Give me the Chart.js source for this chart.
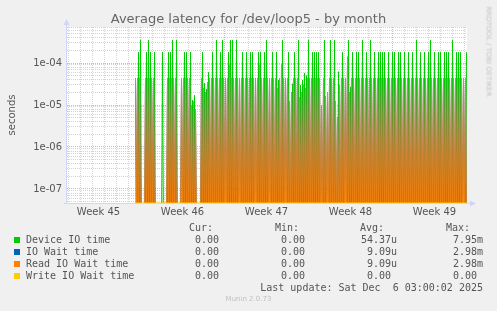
<!DOCTYPE html>
<html>
<head>
<meta charset="utf-8">
<script src="https://cdn.jsdelivr.net/npm/chart.js@4.4.1/dist/chart.umd.min.js"></script>
<style>
  body { margin: 0; background: #f0f0f0; }
  #wrap { position: relative; width: 497px; height: 311px; overflow: hidden; background: #f0f0f0; }
  #chart { position: absolute; left: 0; top: 0; }
  .txt { position: absolute; white-space: pre; color: #555; font-family: "DejaVu Sans", sans-serif; }
  .mono { font-family: "DejaVu Sans Mono", monospace; font-size: 10px; line-height: 12px; }
  .sq { position: absolute; width: 6px; height: 6px; }
</style>
</head>
<body>
<div id="wrap">
  <canvas id="chart" width="497" height="311"></canvas>
  <div class="txt" id="title" style="left:0;width:497px;text-align:center;top:11px;font-size:13px;line-height:15px;color:#666;">Average latency for /dev/loop5 - by month</div>
  <div class="txt" style="left:-18px;top:109px;width:60px;text-align:center;font-size:10px;line-height:12px;transform:rotate(-90deg);">seconds</div>
  <div class="txt" style="left:438px;top:47px;width:100px;text-align:center;font-size:7px;line-height:9px;color:#c4c4c4;transform:rotate(90deg);">RRDTOOL / TOBI OETIKER</div>
  <div id="legend"></div>
  <div class="txt" style="left:0;width:497px;text-align:center;top:295px;font-size:7px;line-height:9px;color:#c0c0c0;">Munin 2.0.73</div>
</div>
<script>
// samples are 2-hourly averages, hours counted from Mon 10 Nov 00:00 (start of week 46)
const sampleStartHour = -10;
const sampleStepHours = 2;

// values in microseconds (0 = line drops below the axis)
const deviceTime = [
  0, 0, 0, 180, 0, 350, 0, 0, 0, 0, 0, 180, 0, 350, 0, 180, 0, 0, 0, 180,
  0, 0, 0, 0, 0, 0, 0, 180, 0, 0, 0, 0, 0, 180, 0, 180, 0, 350, 0, 0,
  0, 350, 0, 0, 0, 0, 0, 0, 0, 180, 0, 180, 0, 0, 0, 180, 0, 13, 0, 17,
  0, 0, 0, 0, 0, 0, 0, 180, 0, 33, 0, 24, 0, 60, 0, 0, 0, 180, 0, 0,
  0, 350, 0, 0, 0, 180, 0, 350, 0, 0, 0, 0, 0, 180, 0, 350, 0, 350, 0, 0,
  0, 350, 0, 0, 0, 0, 0, 180, 0, 0, 0, 180, 0, 0, 0, 180, 0, 180, 0, 0,
  0, 0, 0, 180, 0, 180, 0, 0, 0, 180, 0, 350, 0, 0, 0, 0, 0, 180, 0, 0,
  0, 180, 0, 39, 0, 0, 0, 350, 0, 0, 0, 0, 0, 180, 0, 0, 0, 32, 0, 180,
  0, 0, 0, 350, 0, 30, 0, 39, 0, 58, 0, 50, 0, 350, 0, 0, 0, 180, 0, 180,
  0, 180, 0, 180, 0, 0, 0, 0, 0, 350, 0, 0, 0, 0, 0, 350, 0, 0, 0, 350,
  0, 0, 0, 62, 0, 0, 0, 180, 0, 0, 0, 0, 0, 350, 0, 27, 0, 180, 0, 0,
  0, 180, 0, 180, 0, 0, 0, 350, 0, 0, 0, 180, 0, 0, 0, 350, 0, 0, 0, 180,
  0, 0, 0, 180, 0, 180, 0, 180, 0, 180, 0, 0, 0, 180, 0, 0, 0, 180, 0, 180,
  0, 0, 0, 180, 0, 180, 0, 0, 0, 180, 0, 0, 0, 180, 0, 0, 0, 180, 0, 0,
  0, 350, 0, 0, 0, 180, 0, 0, 0, 180, 0, 0, 0, 180, 0, 350, 0, 0, 0, 180,
  0, 0, 0, 180, 0, 180, 0, 0, 0, 180, 0, 180, 0, 180, 0, 0, 0, 350, 0, 0,
  0, 180, 0, 180, 0, 180, 0, 0, 0, 0, 0, 180
];

const readWait = [
  44, 0, 44, 0, 44, 0, 0, 0, 0, 0, 44, 0, 44, 0, 44, 0, 44, 0, 44, 0,
  0, 0, 0, 0, 0, 0, 0, 0, 0, 0, 0, 0, 44, 0, 44, 0, 44, 0, 44, 0,
  44, 0, 0, 0, 0, 0, 44, 0, 44, 0, 44, 0, 44, 0, 44, 0, 10, 0, 12, 0,
  8, 0, 0, 0, 0, 0, 44, 0, 25, 0, 20, 0, 35, 0, 44, 0, 44, 0, 44, 0,
  44, 0, 44, 0, 44, 0, 44, 0, 44, 0, 44, 0, 44, 0, 90, 0, 44, 0, 44, 0,
  44, 0, 44, 0, 44, 0, 44, 0, 44, 0, 44, 0, 44, 0, 44, 0, 44, 0, 44, 0,
  44, 0, 44, 0, 90, 0, 44, 0, 44, 0, 44, 0, 44, 0, 44, 0, 44, 0, 44, 0,
  44, 0, 25, 0, 44, 0, 90, 0, 44, 0, 44, 0, 44, 0, 12, 0, 20, 0, 44, 0,
  44, 0, 44, 0, 15, 0, 20, 0, 30, 0, 25, 0, 44, 0, 44, 0, 44, 0, 44, 0,
  44, 0, 44, 0, 44, 0, 10, 0, 44, 0, 16, 0, 20, 0, 44, 0, 44, 0, 44, 0,
  12, 0, 5, 0, 30, 0, 44, 0, 44, 0, 44, 0, 140, 0, 20, 0, 44, 0, 44, 0,
  44, 0, 44, 0, 44, 0, 44, 0, 44, 0, 44, 0, 44, 0, 44, 0, 44, 0, 44, 0,
  44, 0, 44, 0, 44, 0, 44, 0, 44, 0, 44, 0, 44, 0, 44, 0, 44, 0, 44, 0,
  44, 0, 44, 0, 44, 0, 44, 0, 44, 0, 44, 0, 44, 0, 44, 0, 44, 0, 44, 0,
  44, 0, 44, 0, 44, 0, 44, 0, 44, 0, 44, 0, 44, 0, 44, 0, 44, 0, 44, 0,
  44, 0, 44, 0, 44, 0, 44, 0, 44, 0, 44, 0, 44, 0, 44, 0, 44, 0, 44, 0,
  44, 0, 44, 0, 44, 0, 44, 0, 44, 0, 44, 0
];

// IO wait is the same as read wait here (same avg and max in the legend)
const ioWait = readWait;

// write wait stays at 0 over the whole data range
const writeWaitHours = [-10, 652];
const writeWait = [0, 0];

// x axis
const weekLabelHours = [-84, 84, 252, 420, 588];
const weekLabels = ["Week 45", "Week 46", "Week 47", "Week 48", "Week 49"];

// y axis
const yMin = 4.64e-8;
const yMax = 7.2e-4;
const yDecades = [1e-8, 1e-7, 1e-6, 1e-5, 1e-4];
const yDecadeLabels = ["1e-08", "1e-07", "1e-06", "1e-05", "1e-04"];

// legend
const seriesNames = ["Device IO time", "IO Wait time", "Read IO Wait time", "Write IO Wait time"];
const seriesColors = ["#00cc00", "#0066b3", "#ff8000", "#ffcc00"];
const curValues = ["0.00 ", "0.00 ", "0.00 ", "0.00 "];
const minValues = ["0.00 ", "0.00 ", "0.00 ", "0.00 "];
const avgValues = ["54.37u", "9.09u", "9.09u", "0.00 "];
const maxValues = ["7.95m", "2.98m", "2.98m", "0.00 "];
const lastUpdate = "Last update: Sat Dec  6 03:00:02 2025";

// a log axis has no 0, so zero readings go just below the axis and get clipped there
const zeroFloor = 5e-9;
const toSeconds = (us) => (us === 0 ? zeroFloor : us / 1e6);

const toPoints = (values) =>
  values.map((v, i) => ({ x: sampleStartHour + i * sampleStepHours, y: toSeconds(v) }));

const yTicks = [];
yDecades.forEach((d) => {
  for (let m = 1; m <= 9; m++) {
    const v = m * d;
    if (v >= yMin && v <= yMax) yTicks.push(v);
  }
});

const xTicks = [];
for (let h = -144; h <= 648; h += 12) xTicks.push(h);

const axisColor = "#cfd6f8";
const majorGrid = "rgba(235,140,140,0.7)";
const minorGrid = "rgba(175,175,175,0.55)";

const plotDecor = {
  id: "plotDecor",
  beforeDraw(chart) {
    const { ctx, chartArea: a } = chart;
    ctx.save();
    ctx.fillStyle = "#ffffff";
    ctx.fillRect(a.left, a.top, a.right - a.left, a.bottom - a.top);
    ctx.restore();
  },
  beforeDatasetsDraw(chart) {
    const { ctx, chartArea: a } = chart;
    ctx.save();
    ctx.strokeStyle = axisColor;
    ctx.fillStyle = axisColor;
    ctx.lineWidth = 1;
    ctx.beginPath();
    ctx.moveTo(a.left - 0.5, a.bottom + 1);
    ctx.lineTo(a.left - 0.5, a.top - 4);
    ctx.moveTo(a.left - 3, a.bottom + 0.5);
    ctx.lineTo(a.right + 4, a.bottom + 0.5);
    ctx.stroke();
    ctx.beginPath();
    ctx.moveTo(a.left - 0.5, a.top - 8);
    ctx.lineTo(a.left - 3.5, a.top - 2);
    ctx.lineTo(a.left + 2.5, a.top - 2);
    ctx.closePath();
    ctx.fill();
    ctx.beginPath();
    ctx.moveTo(a.right + 9, a.bottom + 0.5);
    ctx.lineTo(a.right + 3, a.bottom - 2.5);
    ctx.lineTo(a.right + 3, a.bottom + 3.5);
    ctx.closePath();
    ctx.fill();
    ctx.restore();
  },
};

const mkSet = (label, data, color, order) => ({
  label,
  data,
  borderColor: color,
  backgroundColor: color,
  borderWidth: 1,
  pointRadius: 0,
  tension: 0,
  fill: false,
  order,
});

new Chart(document.getElementById("chart"), {
  type: "line",
  data: {
    datasets: [
      mkSet(seriesNames[0], toPoints(deviceTime), seriesColors[0], 4),
      mkSet(seriesNames[1], toPoints(ioWait), seriesColors[1], 3),
      mkSet(seriesNames[2], toPoints(readWait), seriesColors[2], 2),
      mkSet(seriesNames[3], writeWaitHours.map((h, i) => ({ x: h, y: yMin })), seriesColors[3], 1),
    ],
  },
  options: {
    responsive: false,
    animation: false,
    layout: { padding: { left: 0, top: 27, right: 30, bottom: 0 } },
    plugins: { legend: { display: false }, title: { display: false }, tooltip: { enabled: false } },
    scales: {
      x: {
        type: "linear",
        min: -147,
        max: 653,
        afterBuildTicks: (scale) => {
          scale.ticks = xTicks.map((v) => ({ value: v }));
        },
        afterFit: (scale) => {
          scale.height = 108;
        },
        ticks: {
          autoSkip: false,
          maxRotation: 0,
          padding: 3,
          color: "#555",
          font: { family: "DejaVu Sans", size: 10 },
          callback: (value) => {
            const k = weekLabelHours.indexOf(value);
            return k >= 0 ? weekLabels[k] : "";
          },
        },
        grid: {
          drawTicks: false,
          lineWidth: 1,
          color: (ctx) => {
            const v = ctx.tick ? ctx.tick.value : 1;
            if (v % 168 === 0) return majorGrid;
            if (v % 24 === 0) return minorGrid;
            return "rgba(0,0,0,0)";
          },
        },
        border: { display: false, dash: [1, 1] },
      },
      y: {
        type: "logarithmic",
        min: yMin,
        max: yMax,
        afterBuildTicks: (scale) => {
          scale.ticks = yTicks.map((v) => ({ value: v }));
        },
        afterFit: (scale) => {
          scale.width = 67;
        },
        ticks: {
          autoSkip: false,
          padding: 5,
          color: "#555",
          font: { family: "DejaVu Sans", size: 10 },
          callback: (value) => {
            const k = yDecades.indexOf(value);
            return k >= 0 ? yDecadeLabels[k] : "";
          },
        },
        grid: {
          drawTicks: false,
          lineWidth: 1,
          color: (ctx) => {
            const v = ctx.tick ? ctx.tick.value : 0;
            return yDecades.indexOf(v) >= 0 ? majorGrid : minorGrid;
          },
        },
        border: { display: false, dash: [1, 1] },
      },
    },
  },
  plugins: [plotDecor],
});

// legend block under the chart
const legend = document.getElementById("legend");
const addText = (text, rightEdge, centerY, extra) => {
  const el = document.createElement("div");
  el.className = "txt mono";
  el.textContent = text;
  el.style.top = centerY - 6 + "px";
  if (rightEdge !== null) {
    el.style.right = 497 - rightEdge + "px";
    el.style.textAlign = "right";
  }
  if (extra) Object.assign(el.style, extra);
  legend.appendChild(el);
};

const headerY = 228;
addText("Cur:", 213, headerY);
addText("Min:", 299, headerY);
addText("Avg:", 384, headerY);
addText("Max:", 470, headerY);

seriesNames.forEach((name, i) => {
  const y = 240 + i * 12;
  const sq = document.createElement("div");
  sq.className = "sq";
  sq.style.left = "14px";
  sq.style.top = y - 3 + "px";
  sq.style.background = seriesColors[i];
  legend.appendChild(sq);
  addText(name, null, y, { left: "26px" });
  addText(curValues[i], 225, y);
  addText(minValues[i], 311, y);
  addText(avgValues[i], 397, y);
  addText(maxValues[i], 483, y);
});

addText(lastUpdate, 483, 288);
</script>
</body>
</html>
